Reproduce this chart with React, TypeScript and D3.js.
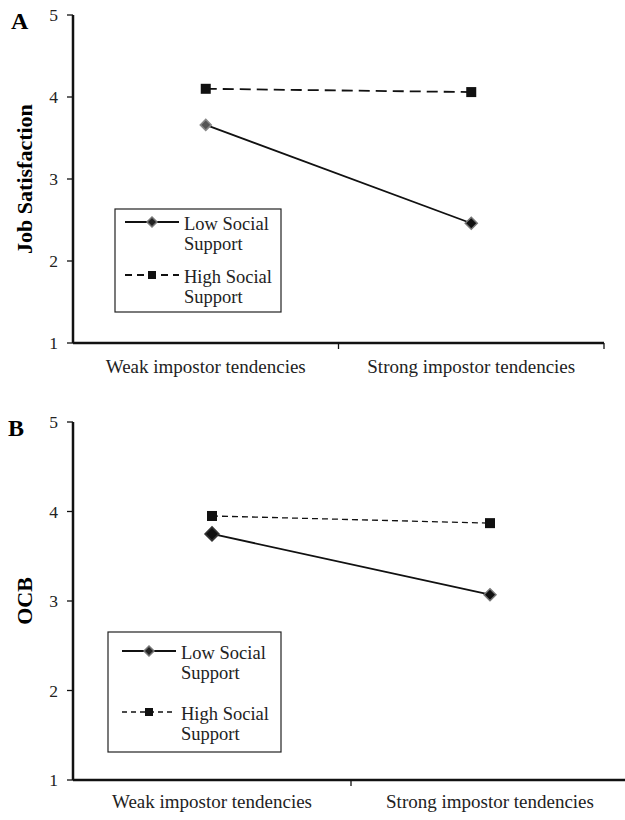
import React from 'react';
import * as d3 from 'd3';

const categories = ['Weak impostor tendencies', 'Strong impostor tendencies'];
const yTicks = [1, 2, 3, 4, 5];
const seriesNames = ['Low Social Support', 'High Social Support'];

// panel A: job satisfaction
const jobLow = [3.66, 2.46];
const jobHigh = [4.1, 4.06];
// panel B: OCB
const ocbLow = [3.75, 3.07];
const ocbHigh = [3.95, 3.87];

const FONT = '"Liberation Serif", "Times New Roman", serif';

function Diamond({ cx, cy, r, fill, stroke }) {
  const p = d3.path();
  p.moveTo(cx, cy - r);
  p.lineTo(cx + r, cy);
  p.lineTo(cx, cy + r);
  p.lineTo(cx - r, cy);
  p.closePath();
  return <path d={p.toString()} fill={fill} stroke={stroke} strokeWidth={1.5} />;
}

function Panel(props) {
  const { letter, yLabel, low, high, left, right, top, bottom, dash, dashWidth, legend, labelY, lowMarkers, letterX, letterY } = props;
  const x = d3.scaleBand().domain(categories).range([left, right]).padding(0);
  const y = d3.scaleLinear().domain([1, 5]).range([bottom, top]);
  const cx = c => x(c) + x.bandwidth() / 2;
  const line = d3
    .line()
    .x((d, i) => cx(categories[i]))
    .y(d => y(d));
  const boundaries = [x(categories[1]), x(categories[1]) + x.bandwidth()];

  return (
    <g>
      <text x={letterX} y={letterY} style={{ fontFamily: FONT, fontSize: 24, fontWeight: 'bold' }}>
        {letter}
      </text>
      <text
        transform={`translate(24,${(top + bottom) / 2}) rotate(-90)`}
        textAnchor="middle"
        dominantBaseline="central"
        style={{ fontFamily: FONT, fontSize: 22, fontWeight: 'bold' }}
      >
        {yLabel}
      </text>
      {/* y axis */}
      <line x1={left} x2={left} y1={top} y2={bottom} stroke="#111" strokeWidth={2.5} />
      {yTicks.map(t => (
        <g key={t}>
          <line x1={left - 6} x2={left} y1={y(t)} y2={y(t)} stroke="#111" strokeWidth={1.3} />
          <text
            x={left - 15}
            y={y(t)}
            textAnchor="end"
            dominantBaseline="central"
            style={{ fontFamily: FONT, fontSize: 17.5, fill: '#222' }}
          >
            {t}
          </text>
        </g>
      ))}
      {/* x axis */}
      <line x1={left} x2={right} y1={bottom} y2={bottom} stroke="#111" strokeWidth={2.5} />
      {boundaries.map((b, i) => (
        <line key={i} x1={b} x2={b} y1={bottom} y2={bottom + 6} stroke="#111" strokeWidth={1.3} />
      ))}
      {categories.map(c => (
        <text
          key={c}
          x={cx(c)}
          y={labelY}
          textAnchor="middle"
          style={{ fontFamily: FONT, fontSize: 19, fill: '#222' }}
        >
          {c}
        </text>
      ))}
      {/* series */}
      <path d={line(high)} fill="none" stroke="#111" strokeWidth={dashWidth} strokeDasharray={dash} />
      <path d={line(low)} fill="none" stroke="#111" strokeWidth={1.8} />
      {high.map((v, i) => (
        <rect key={i} x={cx(categories[i]) - 5} y={y(v) - 5} width={10} height={10} fill="#111" />
      ))}
      {low.map((v, i) => (
        <Diamond key={i} cx={cx(categories[i])} cy={y(v)} r={lowMarkers[i].r} fill={lowMarkers[i].fill} stroke={lowMarkers[i].stroke} />
      ))}
      {/* legend */}
      <rect x={legend.x} y={legend.y} width={legend.w} height={legend.h} fill="white" stroke="#222" strokeWidth={1.2} />
      {seriesNames.map((name, i) => {
        const ly = legend.lineY[i];
        const words = name.split(' ');
        return (
          <g key={name}>
            <line
              x1={legend.x + legend.lx0}
              x2={legend.x + legend.lx1}
              y1={ly}
              y2={ly}
              stroke="#111"
              strokeWidth={i === 0 ? 1.8 : dashWidth}
              strokeDasharray={i === 0 ? null : legend.dash}
            />
            {i === 0 ? (
              <Diamond cx={legend.x + (legend.lx0 + legend.lx1) / 2} cy={ly} r={5} fill="#222" stroke="#777" />
            ) : (
              <rect x={legend.x + (legend.lx0 + legend.lx1) / 2 - 4} y={ly - 4} width={8} height={8} fill="#111" />
            )}
            <text x={legend.x + legend.tx} y={ly + 8} style={{ fontFamily: FONT, fontSize: 18.5, fill: '#222' }}>
              <tspan x={legend.x + legend.tx}>{words.slice(0, 2).join(' ')}</tspan>
              <tspan x={legend.x + legend.tx} dy={20}>
                {words[2]}
              </tspan>
            </text>
          </g>
        );
      })}
    </g>
  );
}

export default function App() {
  return (
    <svg width={625} height={820} style={{ position: 'absolute', left: 0, top: 0, background: 'white' }}>
      <Panel
        letter="A"
        letterX={11}
        letterY={29}
        yLabel="Job Satisfaction"
        low={jobLow}
        high={jobHigh}
        left={73}
        right={604}
        top={15}
        bottom={343}
        dash="11,6"
        dashWidth={1.8}
        labelY={373}
        lowMarkers={[
          { r: 5.5, fill: '#555', stroke: '#888' },
          { r: 6, fill: '#111', stroke: '#777' }
        ]}
        legend={{ x: 115, y: 209, w: 166, h: 103, lineY: [222, 275], lx0: 10, lx1: 64, tx: 69, dash: '7,5' }}
      />
      <Panel
        letter="B"
        letterX={8}
        letterY={436}
        yLabel="OCB"
        low={ocbLow}
        high={ocbHigh}
        left={73}
        right={629}
        top={422}
        bottom={780}
        dash="6,4"
        dashWidth={1.3}
        labelY={808}
        lowMarkers={[
          { r: 7, fill: '#111', stroke: '#333' },
          { r: 6, fill: '#111', stroke: '#777' }
        ]}
        legend={{ x: 108, y: 632, w: 173, h: 120, lineY: [651, 712], lx0: 14, lx1: 68, tx: 73, dash: '5,4' }}
      />
    </svg>
  );
}
